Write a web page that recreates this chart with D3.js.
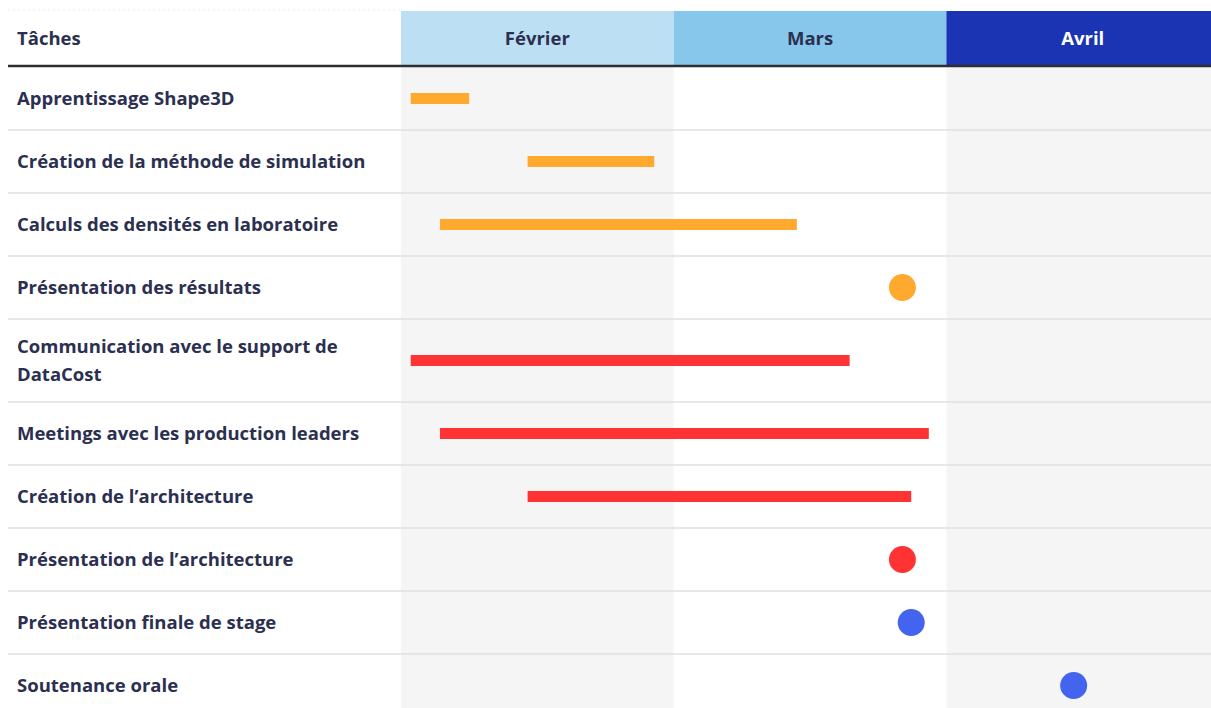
<!DOCTYPE html>
<html>
<head>
<meta charset="utf-8">
<script src="https://cdn.jsdelivr.net/npm/d3@7"></script>
<style>
  body { margin: 0; background: #fff; }
  text { font-family: "Open Sans", "Noto Sans", sans-serif; font-weight: 700; }
</style>
</head>
<body>
<div id="chart"></div>
<script>
// Data
const tasks = [
  "Apprentissage Shape3D",
  "Création de la méthode de simulation",
  "Calculs des densités en laboratoire",
  "Présentation des résultats",
  "Communication avec le support de DataCost",
  "Meetings avec les production leaders",
  "Création de l’architecture",
  "Présentation de l’architecture",
  "Présentation finale de stage",
  "Soutenance orale"
];
const starts = ["2023-02-02", "2023-02-14", "2023-02-05", "2023-03-27", "2023-02-02",
                "2023-02-05", "2023-02-14", "2023-03-27", "2023-03-28", "2023-04-15"];
const ends   = ["2023-02-08", "2023-02-27", "2023-03-15", "2023-03-27", "2023-03-21",
                "2023-03-30", "2023-03-28", "2023-03-27", "2023-03-28", "2023-04-15"];
const groups = ["simulation", "simulation", "simulation", "simulation",
                "architecture", "architecture", "architecture", "architecture",
                "final", "final"];
const months = ["Février", "Mars", "Avril"];
const firstMonth = "2023-02-01";

const groupColors = { simulation: "#ffa92e", architecture: "#ff3333", final: "#4364ee" };
const monthFill = ["#bddff3", "#87c7ec", "#1a34b4"];
const monthText = ["#2b3050", "#2b3050", "#ffffff"];
const colFill = ["#f5f5f5", "#ffffff", "#f5f5f5"];

// Chart dimensions
const width = 1211;
const height = 708;
const labelX = 17;
const lineLeft = 8;
const chartLeft = 401;
const monthWidth = 272.7;
const headerTop = 11;
const headerBottom = 67;
const rowHeight = 63;
const extraLine = 20;
const wrapWidth = 375;
const fontSize = "18.5px";
const textColor = "#2b3050";

const parse = d3.timeParse("%Y-%m-%d");
// position of a date in "months since start", each month the same width
function monthPos(s) {
  const d = parse(s);
  const m0 = d3.timeMonth.floor(d);
  const m1 = d3.timeMonth.offset(m0, 1);
  const idx = d3.timeMonth.count(parse(firstMonth), m0);
  return idx + (d - m0) / (m1 - m0);
}

const x = d3.scaleLinear()
    .domain([0, months.length])
    .range([chartLeft, chartLeft + monthWidth * months.length]);

const band = d3.scaleBand()
    .domain(months)
    .range(x.range());

const svg = d3.select("#chart").append("svg")
    .attr("width", width)
    .attr("height", height);

const gBg = svg.append("g");
const gLines = svg.append("g");
const gLabels = svg.append("g");
const gMarks = svg.append("g");

// Wrap the labels first so the rows can get their height
const labels = gLabels.selectAll("text")
    .data(tasks)
    .join("text")
    .attr("x", labelX)
    .attr("fill", textColor)
    .attr("font-size", fontSize);

const lineCounts = [];
labels.each(function(t, i) {
  const el = d3.select(this);
  const words = t.split(" ");
  let lines = [];
  let cur = [];
  const probe = el.append("tspan");
  words.forEach(w => {
    const trial = cur.concat([w]).join(" ");
    probe.text(trial);
    if (probe.node().getComputedTextLength() > wrapWidth && cur.length) {
      lines.push(cur.join(" "));
      cur = [w];
    } else {
      cur.push(w);
    }
  });
  lines.push(cur.join(" "));
  probe.remove();
  lineCounts[i] = lines;
});

// row tops
const rowTops = [];
let yy = headerBottom;
tasks.forEach((t, i) => {
  rowTops.push(yy);
  yy += rowHeight + extraLine * (lineCounts[i].length - 1);
});
const rowBottoms = rowTops.map((t, i) => t + rowHeight + extraLine * (lineCounts[i].length - 1));
const rowMid = i => (rowTops[i] + rowBottoms[i]) / 2;

// column backgrounds
gBg.selectAll("rect.col")
    .data(months)
    .join("rect")
    .attr("class", "col")
    .attr("x", d => band(d))
    .attr("y", headerBottom)
    .attr("width", band.bandwidth())
    .attr("height", height - headerBottom)
    .attr("fill", (d, i) => colFill[i]);

// header cells
gBg.selectAll("rect.head")
    .data(months)
    .join("rect")
    .attr("class", "head")
    .attr("x", d => band(d))
    .attr("y", headerTop)
    .attr("width", band.bandwidth())
    .attr("height", headerBottom - headerTop)
    .attr("fill", (d, i) => monthFill[i]);

svg.append("text")
    .attr("x", labelX)
    .attr("y", (headerTop + headerBottom) / 2)
    .attr("dy", "0.35em")
    .attr("fill", textColor)
    .attr("font-size", fontSize)
    .text("Tâches");

svg.selectAll("text.month")
    .data(months)
    .join("text")
    .attr("class", "month")
    .attr("x", d => band(d) + band.bandwidth() / 2)
    .attr("y", (headerTop + headerBottom) / 2)
    .attr("dy", "0.35em")
    .attr("text-anchor", "middle")
    .attr("fill", (d, i) => monthText[i])
    .attr("font-size", fontSize)
    .text(d => d);

// faint dotted line above the task header
gLines.append("line")
    .attr("x1", lineLeft).attr("x2", chartLeft)
    .attr("y1", headerTop - 1).attr("y2", headerTop - 1)
    .attr("stroke", "#ececf0")
    .attr("stroke-dasharray", "2,3");

// row separators
gLines.selectAll("line.sep")
    .data(rowBottoms.slice(0, -1))
    .join("line")
    .attr("class", "sep")
    .attr("x1", lineLeft).attr("x2", width)
    .attr("y1", d => d).attr("y2", d => d)
    .attr("stroke", "#dfe0e7")
    .attr("stroke-width", 1.5);

// header rule
gLines.append("line")
    .attr("x1", lineLeft).attr("x2", width)
    .attr("y1", headerBottom - 1).attr("y2", headerBottom - 1)
    .attr("stroke", "#2e2e2e")
    .attr("stroke-width", 2.5);

// place label lines
labels.each(function(t, i) {
  const lines = lineCounts[i];
  const el = d3.select(this).text(null);
  const lh = 28;
  const y0 = rowMid(i) - (lines.length - 1) * lh / 2;
  lines.forEach((ln, k) => {
    el.append("tspan")
      .attr("x", labelX)
      .attr("y", y0 + k * lh)
      .attr("dy", "0.35em")
      .text(ln);
  });
});

// bars and milestones
const items = tasks.map((t, i) => ({
  i, s: monthPos(starts[i]), e: monthPos(ends[i]), g: groups[i]
}));

gMarks.selectAll("rect.bar")
    .data(items.filter(d => d.e > d.s))
    .join("rect")
    .attr("class", "bar")
    .attr("x", d => x(d.s))
    .attr("y", d => rowMid(d.i) - 5.5)
    .attr("width", d => x(d.e) - x(d.s))
    .attr("height", 11)
    .attr("fill", d => groupColors[d.g]);

gMarks.selectAll("circle.dot")
    .data(items.filter(d => d.e === d.s))
    .join("circle")
    .attr("class", "dot")
    .attr("cx", d => x(d.s))
    .attr("cy", d => rowMid(d.i))
    .attr("r", 13.5)
    .attr("fill", d => groupColors[d.g]);
</script>
</body>
</html>
